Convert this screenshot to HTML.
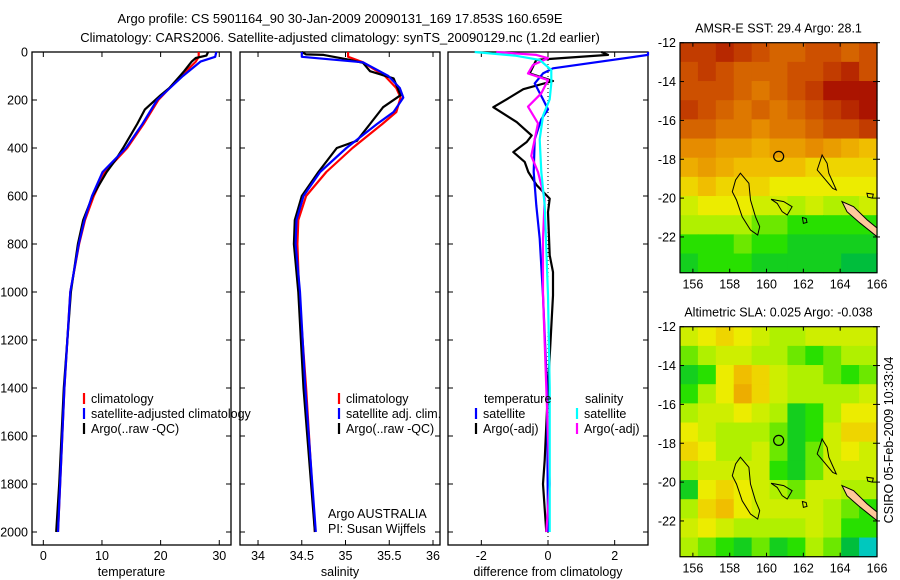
<!DOCTYPE html>
<html><head><meta charset="utf-8"><style>
html,body{margin:0;padding:0;background:#fff}
svg{display:block;font-family:"Liberation Sans",sans-serif}
</style></head><body>
<svg id="fig" width="900" height="580" viewBox="0 0 900 580" xmlns="http://www.w3.org/2000/svg">
<text x="340" y="23" font-size="13" text-anchor="middle">Argo profile: CS 5901164_90 30-Jan-2009 20090131_169 17.853S 160.659E</text>
<text x="340" y="42" font-size="13" text-anchor="middle">Climatology: CARS2006. Satellite-adjusted climatology: synTS_20090129.nc (1.2d earlier)</text>
<g id="g1"></g>
<g id="g2"></g>
<g id="g3"></g>
<g id="m1"></g>
<g id="m2"></g>
<text transform="translate(893,440) rotate(-90)" font-size="12.5" text-anchor="middle">CSIRO 05-Feb-2009 10:33:04</text>
</svg>
<script>
// ---- profile data ----
const tDepth=[0,20,40,100,200,300,400,500,600,700,800,1000,1400,2000];
const tClim=[26.5,26.5,26.0,23.5,19.6,17.1,14.3,10.5,8.6,7.1,6.1,4.6,3.6,2.5];
const tSat=[29.5,29.3,26.8,23.8,19.4,16.9,14.1,10.1,8.3,7.0,6.05,4.6,3.6,2.5];
const aDepth=[0,15,25,40,80,100,150,180,240,300,400,450,500,600,700,800,1000,1400,1800,2000];
const tArgo=[28.1,27.8,26.0,25.3,24.0,23.3,21.5,20.0,17.3,16.0,13.6,12.3,10.8,8.4,6.8,5.9,4.7,3.5,2.7,2.2];
const sDepth=[0,20,43,100,150,190,250,300,400,500,600,700,800,1000,1400,2000];
const sClim=[35.03,35.03,35.2,35.45,35.58,35.63,35.58,35.42,35.08,34.78,34.55,34.46,34.45,34.47,34.55,34.65];
const sSat=[34.5,34.5,35.2,35.49,35.62,35.66,35.55,35.36,35.01,34.71,34.52,34.44,34.43,34.48,34.54,34.66];
const saDepth=[0,10,12,30,45,80,110,180,230,300,370,400,500,600,700,800,1000,1400,2000];
const sArgo=[34.5,34.55,34.75,35.01,35.2,35.28,35.55,35.63,35.43,35.28,35.13,34.9,34.69,34.5,34.42,34.41,34.46,34.52,34.65];
const dtSatDepth=[0,12,68,89,131,197,239,280,364,500,639,778,1014,1400,2000];
const dtSat=[3.2,3.0,0.15,-0.15,-0.4,-0.15,0,-0.2,-0.4,-0.43,-0.35,-0.25,-0.15,-0.03,0];
const dtArgoDepth=[0,12,33,89,121,155,197,230,292,348,375,417,458,500,555,611,667,847,917,1014,1400,1700,1800,2000];
const dtArgo=[1.6,1.8,-0.35,-0.55,0.15,-0.74,-1.24,-1.64,-0.94,-0.49,-0.64,-1.04,-0.7,-0.59,-0.34,0.05,0,0.05,0.15,0.15,0,-0.1,-0.15,-0.05];
const dsSatDepth=[0,15,33,75,131,197,266,364,500,639,1014,1400,2000];
const dsSat=[-2.2,-1.0,-0.25,0.1,0.1,0.05,-0.15,-0.25,-0.2,-0.1,0,0.05,0.05];
const dsArgoDepth=[0,12,26,54,89,117,172,228,297,364,433,500,611,778,1014,1400,1800,2000];
const dsArgo=[-1.55,-0.35,0,-0.45,-0.6,0,-0.2,-0.6,-0.3,-0.4,-0.5,-0.3,-0.1,-0.15,-0.15,-0.05,0.05,-0.05];
const depthTicks=[0,200,400,600,800,1000,1200,1400,1600,1800,2000];
const tTicks=[0,10,20,30];
const sTicks=[34,34.5,35,35.5,36];
const dTicks=[-2,0,2];
// ---- map data (value 0..1 on colormap) ----
const sstGrid=[
[0.85,0.85,0.9,0.85,0.8,0.75,0.75,0.8,0.8,0.75,0.8],
[0.8,0.85,0.8,0.75,0.75,0.75,0.8,0.8,0.85,0.9,0.8],
[0.8,0.8,0.8,0.75,0.7,0.75,0.8,0.85,0.95,0.95,0.95],
[0.85,0.8,0.75,0.7,0.75,0.7,0.75,0.8,0.85,0.9,0.95],
[0.75,0.75,0.7,0.7,0.65,0.7,0.7,0.75,0.8,0.8,0.85],
[0.65,0.65,0.6,0.6,0.55,0.6,0.6,0.65,0.6,0.55,0.5],
[0.55,0.6,0.55,0.5,0.5,0.5,0.5,0.45,0.45,0.45,0.45],
[0.45,0.5,0.45,0.45,0.45,0.4,0.4,0.4,0.4,0.4,0.4],
[0.35,0.4,0.4,0.4,0.35,0.35,0.3,0.35,0.3,0.3,0.35],
[0.3,0.3,0.3,0.3,0.25,0.25,0.2,0.2,0.2,0.2,0.2],
[0.2,0.2,0.2,0.25,0.2,0.2,0.15,0.15,0.15,0.15,0.15],
[0.15,0.2,0.2,0.2,0.15,0.15,0.15,0.15,0.15,0.1,0.1]];
const slaGrid=[
[0.35,0.4,0.45,0.4,0.35,0.3,0.3,0.35,0.35,0.35,0.35],
[0.25,0.3,0.35,0.35,0.3,0.3,0.25,0.2,0.25,0.3,0.3],
[0.15,0.2,0.4,0.5,0.45,0.35,0.3,0.3,0.25,0.2,0.25],
[0.2,0.3,0.4,0.55,0.45,0.35,0.3,0.3,0.3,0.3,0.35],
[0.3,0.35,0.35,0.4,0.35,0.3,0.15,0.2,0.3,0.4,0.4],
[0.4,0.35,0.3,0.3,0.3,0.25,0.15,0.2,0.35,0.45,0.45],
[0.45,0.4,0.3,0.3,0.35,0.25,0.15,0.25,0.35,0.4,0.35],
[0.3,0.35,0.35,0.35,0.35,0.2,0.15,0.25,0.35,0.35,0.35],
[0.15,0.4,0.45,0.4,0.35,0.3,0.25,0.35,0.35,0.3,0.3],
[0.3,0.45,0.5,0.4,0.35,0.35,0.35,0.35,0.3,0.25,0.2],
[0.35,0.4,0.35,0.3,0.3,0.3,0.3,0.35,0.3,0.2,0.2],
[0.3,0.25,0.2,0.15,0.25,0.15,0.2,0.3,0.25,0.1,0.0]];
const lonTicks=[156,158,160,162,164,166];
const latTicks=[-12,-14,-16,-18,-20,-22];
const argoLon=160.659, argoLat=-17.853;
const reefA=[[158.58,-18.72],[159.04,-19.24],[159.13,-20.10],[159.40,-20.96],[159.63,-21.47],[159.52,-21.90],[159.13,-21.64],[158.68,-20.96],[158.37,-20.10],[158.14,-19.67],[158.32,-19.07]];
const reefB=[[163.02,-17.78],[163.29,-18.21],[163.38,-18.72],[163.79,-19.58],[163.6,-19.5],[162.75,-18.55],[162.93,-18.04]];
const reefC=[[160.25,-20.06],[160.93,-20.18],[161.39,-20.44],[161.12,-20.87],[160.85,-20.70],[160.58,-20.27]];
const reefD=[[161.95,-21.0],[162.15,-21.05],[162.2,-21.25],[162.0,-21.3]];
const reefE=[[165.45,-19.75],[165.8,-19.8],[165.75,-20.0],[165.5,-19.95]];
const newCal=[[164.10,-20.18],[164.73,-20.44],[165.46,-21.12],[166.1,-21.54],[166.1,-21.98],[165.09,-21.29],[164.37,-20.70]];

const NS='http://www.w3.org/2000/svg';
function mk(tag,attrs,parent){const e=document.createElementNS(NS,tag);for(const k in attrs)e.setAttribute(k,attrs[k]);parent.appendChild(e);return e;}
const yTop=52, yPer=0.24, boxBottom=545;
function yD(d){return yTop+d*yPer;}

function panel(g,x0,x1,vmin,vmax,ticks,fmt,label,showY){
  const sx=v=>x0+(v-vmin)/(vmax-vmin)*(x1-x0);
  const r=mk('rect',{x:x0,y:yTop,width:x1-x0,height:boxBottom-yTop,fill:'none',stroke:'#000','stroke-width':1.3},g);
  
  depthTicks.forEach(d=>{
    const y=yD(d);
    mk('line',{x1:x0,x2:x0+5,y1:y,y2:y,stroke:'#000'},g);
    mk('line',{x1:x1-5,x2:x1,y1:y,y2:y,stroke:'#000'},g);
    if(showY){const t=mk('text',{x:x0-4,y:y+4.5,'font-size':12.5,'text-anchor':'end'},g);t.textContent=d;
      }
  });
  ticks.forEach(v=>{
    const x=sx(v);
    mk('line',{x1:x,x2:x,y1:boxBottom,y2:boxBottom-5,stroke:'#000'},g);
    mk('line',{x1:x,x2:x,y1:yTop,y2:yTop+5,stroke:'#000'},g);
    const t=mk('text',{x:x,y:560,'font-size':12.5,'text-anchor':'middle'},g);t.textContent=fmt(v);
    
  });
  const t=mk('text',{x:(x0+x1)/2,y:576,'font-size':12.5,'text-anchor':'middle'},g);t.textContent=label;
  
  return sx;
}
function line(g,sx,depths,vals,color,name,x0,x1){
  const pts=depths.map((d,i)=>{let x=sx(vals[i]);x=Math.max(x0,Math.min(x1,x));return x.toFixed(1)+','+yD(d).toFixed(1);}).join(' ');
  const p=mk('polyline',{points:pts,fill:'none',stroke:color,'stroke-width':2.2,'stroke-linejoin':'round'},g);
  
}
function legend(g,x,y,color,text){
  mk('line',{x1:x,x2:x,y1:y-10,y2:y+1,stroke:color,'stroke-width':2.2},g);
  if(text!==null){const t=mk('text',{x:x+7,y:y,'font-size':12.5},g);t.textContent=text;
  }
}
function txt(g,x,y,s,name){const t=mk('text',{x:x,y:y,'font-size':12.5},g);t.textContent=s;}

const g1=document.getElementById('g1');
const s1=panel(g1,32,231,-1.93,32,tTicks,v=>v,'temperature',true);
line(g1,s1,tDepth,tClim,'#f00','temp-climatology-line',32,231);
line(g1,s1,aDepth,tArgo,'#000','temp-argo-line',32,231);
line(g1,s1,tDepth,tSat,'#00f','temp-satellite-line',32,231);
legend(g1,84,403,'#f00','climatology');
legend(g1,84,418,'#00f','satellite-adjusted climatology');
legend(g1,84,433,'#000','Argo(..raw -QC)');

const g2=document.getElementById('g2');
const s2=panel(g2,240,440,33.794,36.08,sTicks,v=>v,'salinity',false);
line(g2,s2,sDepth,sClim,'#f00','sal-climatology-line',240,440);
line(g2,s2,saDepth,sArgo,'#000','sal-argo-line',240,440);
line(g2,s2,sDepth,sSat,'#00f','sal-satellite-line',240,440);
legend(g2,339,403,'#f00','climatology');
legend(g2,339,418,'#00f','satellite adj. clim.');
legend(g2,339,433,'#000','Argo(..raw -QC)');
txt(g2,328,518,'Argo AUSTRALIA','agency-label');
txt(g2,328,533,'PI: Susan Wijffels','pi-label');

const g3=document.getElementById('g3');
const s3=panel(g3,448,648,-3,3,dTicks,v=>v,'difference from climatology',false);
mk('line',{x1:s3(0),x2:s3(0),y1:yTop,y2:boxBottom,stroke:'#000','stroke-dasharray':'1,3'},g3);
line(g3,s3,dtArgoDepth,dtArgo,'#000','temp-argo-diff-line',448,648);
line(g3,s3,dtSatDepth,dtSat,'#00f','temp-satellite-diff-line',448,648);
line(g3,s3,dsArgoDepth,dsArgo,'#f0f','sal-argo-diff-line',448,648);
line(g3,s3,dsSatDepth,dsSat,'#0ff','sal-satellite-diff-line',448,648);
txt(g3,484,403,'temperature','legend-heading-temperature');
txt(g3,585,403,'salinity','legend-heading-salinity');
legend(g3,476,418,'#00f','satellite');
legend(g3,476,433,'#000','Argo(-adj)');
legend(g3,577,418,'#0ff','satellite');
legend(g3,577,433,'#f0f','Argo(-adj)');

// ---- maps ----
const stops=[[0,[0,200,190]],[0.1,[0,190,60]],[0.2,[40,224,0]],[0.3,[176,240,0]],[0.4,[236,236,0]],[0.5,[240,190,0]],[0.65,[230,140,0]],[0.8,[205,80,0]],[1,[160,0,0]]];
function cmap(v){for(let i=1;i<stops.length;i++){if(v<=stops[i][0]){const a=stops[i-1],b=stops[i],f=(v-a[0])/(b[0]-a[0]);const c=a[1].map((x,k)=>Math.round(x+(b[1][k]-x)*f));return 'rgb('+c+')';}}return 'rgb(160,0,0)';}
function map(gid,top,grid,title,titleName){
  const g=document.getElementById(gid);
  const x0=680,x1=877,lon0=155.3,lon1=166.0,lat0=-12,lat1=-23.84,h=230;
  const px=lon=>x0+(lon-lon0)/(lon1-lon0)*(x1-x0);
  const py=lat=>top+(lat0-lat)/(lat0-lat1)*h;
  const rows=grid.length,cols=grid[0].length,cw=(x1-x0)/cols,ch=h/rows;
  grid.forEach((row,r)=>row.forEach((v,c)=>{
    const e=mk('rect',{x:(x0+c*cw).toFixed(2),y:(top+r*ch).toFixed(2),width:(cw+0.6).toFixed(2),height:(ch+0.6).toFixed(2),fill:cmap(v)},g);
    
  }));
  const poly=(pts,fill,name)=>{const e=mk('polygon',{points:pts.map(p=>px(Math.min(p[0],lon1)).toFixed(1)+','+py(p[1]).toFixed(1)).join(' '),fill:fill,stroke:'#000','stroke-width':1},g);};
  poly(newCal,'#ffc89a','new-caledonia-land');
  poly(reefA,'none','chesterfield-reef-contour');
  poly(reefB,'none','reef-contour');
  poly(reefC,'none','bellona-reef-contour');
  poly(reefD,'none','reef-contour');
  poly(reefE,'none','reef-contour');
  const c=mk('circle',{cx:px(argoLon),cy:py(argoLat),r:5,fill:'none',stroke:'#000','stroke-width':1.2},g);
  
  const b=mk('rect',{x:x0,y:top,width:x1-x0,height:h,fill:'none',stroke:'#000','stroke-width':1.2},g);
  
  lonTicks.forEach(l=>{const x=px(l);mk('line',{x1:x,x2:x,y1:top+h,y2:top+h-4,stroke:'#000'},g);mk('line',{x1:x,x2:x,y1:top,y2:top+4,stroke:'#000'},g);
    const t=mk('text',{x:x,y:top+h+16,'font-size':12.5,'text-anchor':'middle'},g);t.textContent=l;});
  latTicks.forEach(l=>{const y=py(l);mk('line',{x1:x0,x2:x0+4,y1:y,y2:y,stroke:'#000'},g);mk('line',{x1:x1-4,x2:x1+3,y1:y,y2:y,stroke:'#000'},g);
    const t=mk('text',{x:x0-4,y:y+4.5,'font-size':12.5,'text-anchor':'end'},g);t.textContent=l;});
  const t=mk('text',{x:(x0+x1)/2,y:top-10,'font-size':12.5,'text-anchor':'middle'},g);t.textContent=title;
  
}
map('m1',42.7,sstGrid,'AMSR-E SST: 29.4  Argo: 28.1','sst-map-title');
map('m2',326.7,slaGrid,'Altimetric SLA: 0.025  Argo: -0.038','sla-map-title');
</script>
</body></html>
